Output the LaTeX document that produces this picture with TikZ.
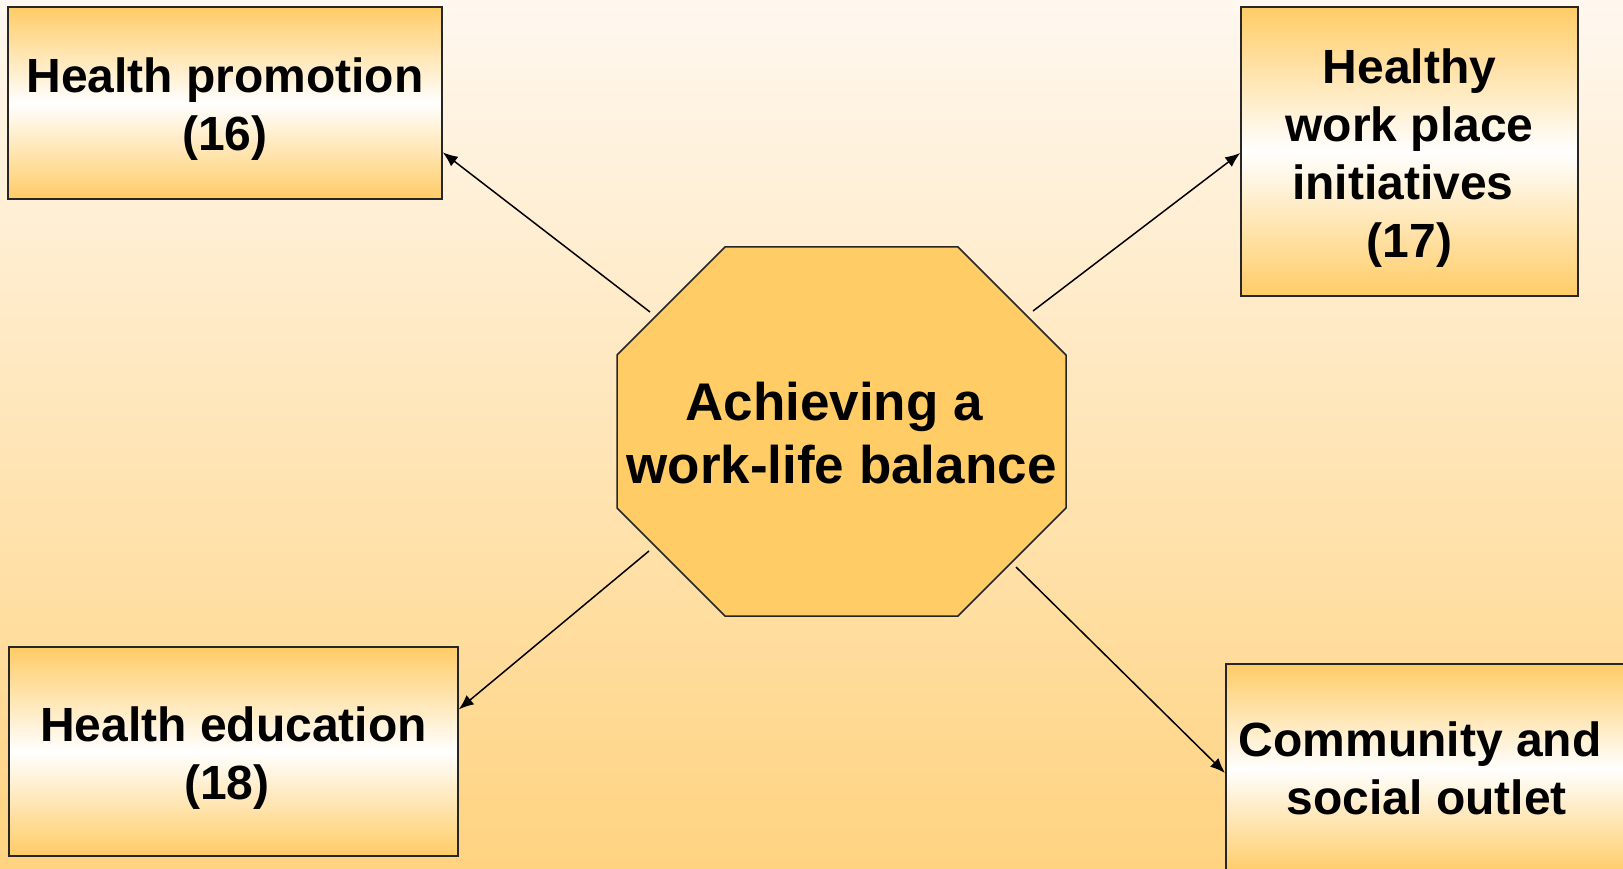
\documentclass[tikz,border=0pt]{standalone}
\usepackage{fontspec}
\setmainfont{Liberation Sans}
\usetikzlibrary{arrows.meta,calc}
\definecolor{bgtop}{RGB}{255,248,240}
\definecolor{bgbot}{RGB}{255,211,128}
\definecolor{boxorange}{RGB}{255,204,102}
\definecolor{hubfill}{RGB}{255,204,102}
\newcommand\lowtext[2]{\raisebox{#1}[\height][\depth]{\begin{tabular}{@{}c@{}}#2\end{tabular}}}
\tikzset{
  gbox/.style={draw=black!85, line width=1.5pt, rectangle, inner sep=0pt,
    top color=boxorange, bottom color=boxorange, middle color=white,
    align=center, font=\fontsize{48}{58}\selectfont\bfseries, text=black},
  conn/.style={line width=1.5pt, black, -{Latex[length=15pt,width=12pt]}},
}
\begin{document}
\begin{tikzpicture}[x=1pt,y=-1pt]
\useasboundingbox (0,0) rectangle (1623,869);
\clip (0,0) rectangle (1623,869);
\shade[top color=bgtop, bottom color=bgbot] (0,0) rectangle (1623,869);
% hub octagon
\draw[line width=1.5pt, draw=black!85, fill=hubfill]
  (725,247) -- (958,247) -- (1066,355) -- (1066,508) -- (958,616)
  -- (725,616) -- (617,508) -- (617,355) -- cycle;
\node[align=center, font=\fontsize{53}{63}\selectfont\bfseries] (hub) at (841.5,433.5)
  {Achieving a\hspace*{0.28em}\\work-life balance};
% boxes
\node[gbox, minimum width=434pt, minimum height=192pt] (hp) at (225,103)
  {\lowtext{-7pt}{Health promotion\\(16)}};
\node[gbox, minimum width=337pt, minimum height=289pt] (hw) at (1409.5,151.5)
  {\lowtext{-7pt}{Healthy\\work place\\initiatives\hspace*{0.28em}\\(17)}};
\node[gbox, minimum width=449pt, minimum height=209pt] (he) at (233.5,751.5)
  {\lowtext{-7pt}{Health education\\(18)\hspace*{0.28em}}};
\node[gbox, minimum width=402pt, minimum height=210pt, anchor=north west] (cs) at (1225,663)
  {Community and\hspace*{0.28em}\\social outlet};
% connector start points just outside the hub
\coordinate (s1) at (650,312);
\coordinate (s2) at (1033,311);
\coordinate (s3) at (649,551);
\coordinate (s4) at (1016,567);
\draw[conn] (s1) -- ($(hp.north east)!0.755!(hp.south east)$);
\draw[conn] (s2) -- ($(hw.north west)!0.505!(hw.south west)$);
\draw[conn] (s3) -- ($(he.north east)!0.30!(he.south east)$);
\draw[conn] (s4) -- ($(cs.north west)!0.52!(cs.south west)$);
\end{tikzpicture}
\end{document}
